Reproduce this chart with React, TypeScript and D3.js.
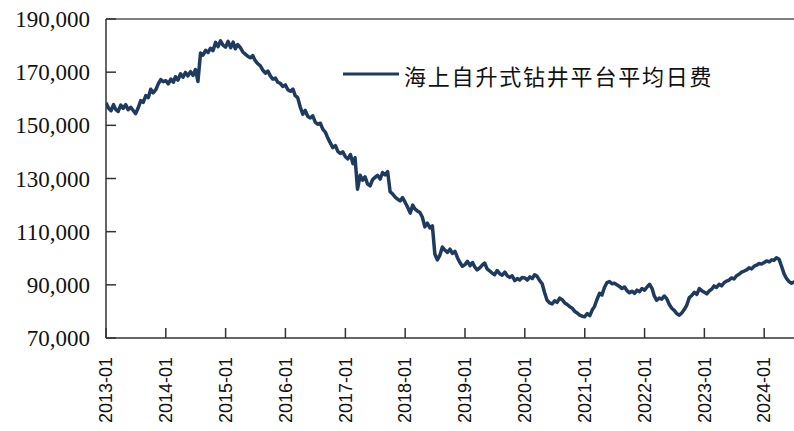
import React from "react";
import * as d3 from "d3";

const seriesName = "海上自升式钻井平台平均日费";
const startYear = 2013;
// half-monthly values (thousand USD/day), 24 per year
const v2013 = [158.5, 156.5, 155.5, 157.8, 156.0, 155.2, 157.6, 156.4, 157.8, 155.9, 156.8, 155.6, 154.4, 156.5, 159.3, 158.6, 161.2, 160.4, 163.6, 162.2, 163.4, 165.6, 167.2, 166.4];
const v2014 = [166.8, 165.6, 167.4, 166.2, 168.3, 167.0, 169.4, 168.1, 169.9, 168.6, 170.2, 168.8, 171.0, 166.5, 177.2, 176.4, 178.2, 177.4, 179.0, 178.1, 181.2, 179.6, 181.8, 180.2];
const v2015 = [179.4, 181.6, 179.2, 181.3, 178.8, 180.4, 179.2, 177.6, 176.8, 176.0, 175.4, 176.2, 174.3, 173.2, 172.4, 170.8, 169.6, 170.4, 168.6, 167.4, 167.8, 166.2, 165.8, 164.6];
const v2016 = [165.2, 163.4, 162.8, 163.6, 161.2, 160.4, 156.8, 154.2, 155.6, 153.4, 152.8, 153.6, 151.2, 150.4, 150.8, 148.6, 147.4, 145.2, 143.4, 141.6, 142.4, 140.2, 139.4, 140.0];
const v2017 = [138.2, 137.4, 139.0, 135.6, 137.8, 126.0, 131.2, 129.4, 130.6, 128.0, 127.2, 129.6, 130.4, 131.2, 129.8, 132.2, 131.4, 132.6, 125.0, 124.2, 123.0, 122.2, 121.6, 122.8];
const v2018 = [121.0, 119.2, 117.0, 120.0, 118.6, 117.8, 117.2, 115.4, 111.8, 113.2, 111.4, 112.2, 101.6, 99.4, 101.2, 104.2, 103.0, 102.2, 103.4, 101.8, 102.6, 100.2, 98.4, 97.0];
const v2019 = [97.6, 98.8, 97.2, 98.4, 96.8, 95.6, 96.4, 97.4, 98.2, 96.0, 95.2, 94.4, 93.8, 95.4, 94.2, 93.6, 94.8, 93.4, 92.8, 93.4, 91.6, 92.4, 91.8, 92.8];
const v2020 = [92.6, 91.8, 93.0, 92.4, 93.8, 93.2, 91.6, 90.4, 87.0, 84.2, 83.2, 82.8, 84.0, 83.4, 85.0, 84.4, 83.2, 82.6, 81.8, 81.2, 80.0, 79.4, 78.6, 78.2];
const v2021 = [78.0, 79.2, 78.4, 80.6, 81.8, 84.4, 86.8, 86.2, 89.0, 90.8, 91.2, 90.4, 90.6, 90.0, 89.4, 88.6, 89.2, 87.8, 87.0, 87.6, 86.8, 88.0, 87.4, 88.6];
const v2022 = [88.0, 89.2, 90.2, 88.6, 85.8, 84.2, 85.0, 84.6, 85.8, 84.8, 82.6, 81.2, 80.4, 79.2, 78.6, 79.4, 80.8, 82.4, 85.2, 86.0, 87.2, 86.4, 88.6, 87.8];
const v2023 = [87.2, 86.6, 87.8, 88.4, 89.6, 89.0, 90.2, 89.6, 90.8, 91.4, 91.8, 92.6, 92.2, 93.4, 94.0, 94.8, 95.2, 95.6, 96.4, 96.0, 97.0, 97.4, 98.0, 97.8];
const v2024 = [98.4, 99.0, 98.6, 99.4, 99.2, 100.2, 99.6, 97.0, 94.2, 92.4, 91.2, 90.6, 91.0, 91.6];

const yTicks = [70000, 90000, 110000, 130000, 150000, 170000, 190000];
const xTickLabels = ["2013-01", "2014-01", "2015-01", "2016-01", "2017-01", "2018-01", "2019-01", "2020-01", "2021-01", "2022-01", "2023-01", "2024-01"];

const allValues = [...v2013, ...v2014, ...v2015, ...v2016, ...v2017, ...v2018, ...v2019, ...v2020, ...v2021, ...v2022, ...v2023, ...v2024];
const data = allValues.map((v, i) => {
  const year = startYear + Math.floor(i / 24);
  const k = i % 24;
  return { date: new Date(year, Math.floor(k / 2), k % 2 ? 16 : 1), value: v * 1000 };
});

export default function App() {
  const W = 794, H = 431;
  const left = 106, right = 794, top = 19, bottom = 338;
  const x = d3.scaleTime().domain([new Date(2013, 0, 1), new Date(2024, 6, 1)]).range([left, right]);
  const y = d3.scaleLinear().domain([70000, 190000]).range([bottom, top]);
  const line = d3.line<{ date: Date; value: number }>().x(d => x(d.date)).y(d => y(d.value));
  const fmt = d3.format(",");
  const color = "#1e3a5f";
  const axisColor = "#333";
  return (
    <svg width={W} height={H} style={{ position: "fixed", left: 0, top: 0, background: "#fff" }}>
      <defs>
        <clipPath id="plot">
          <rect x={left} y={top - 5} width={right - left} height={bottom - top + 5} />
        </clipPath>
      </defs>
      <line x1={left} x2={right} y1={top} y2={top} stroke="#555" strokeWidth={1.5} />
      <line x1={left} x2={left} y1={top} y2={bottom} stroke={axisColor} strokeWidth={1.5} />
      <line x1={left} x2={right} y1={bottom} y2={bottom} stroke={axisColor} strokeWidth={1.5} />
      {yTicks.map(t => (
        <g key={t}>
          <line x1={left} x2={left + 10} y1={y(t)} y2={y(t)} stroke={axisColor} strokeWidth={1.5} />
          <text x={90} y={y(t)} dy="0.35em" textAnchor="end" fontFamily="'Liberation Serif', 'Times New Roman', serif" fontSize={23} fill="#111">{fmt(t)}</text>
        </g>
      ))}
      {xTickLabels.map(lbl => {
        const [yy, mm] = lbl.split("-").map(Number);
        const xp = x(new Date(yy, mm - 1, 1));
        return (
          <g key={lbl}>
            <line x1={xp} x2={xp} y1={bottom} y2={bottom - 10} stroke={axisColor} strokeWidth={1.5} />
            <text transform={`translate(${xp},357) rotate(-90)`} dy="0.35em" textAnchor="end" fontFamily="'Liberation Sans', Arial, sans-serif" fontSize={18} fill="#111">{lbl}</text>
          </g>
        );
      })}
      <path d={line(data) || ""} fill="none" stroke={color} strokeWidth={3.5} strokeLinejoin="round" clipPath="url(#plot)" />
      <line x1={343} x2={399} y1={74} y2={74} stroke={color} strokeWidth={3} />
      <text x={404} y={75} dominantBaseline="central" fontFamily="'Noto Sans CJK SC', sans-serif" fontSize={22} letterSpacing={1.8} fill="#111">{seriesName}</text>
    </svg>
  );
}
